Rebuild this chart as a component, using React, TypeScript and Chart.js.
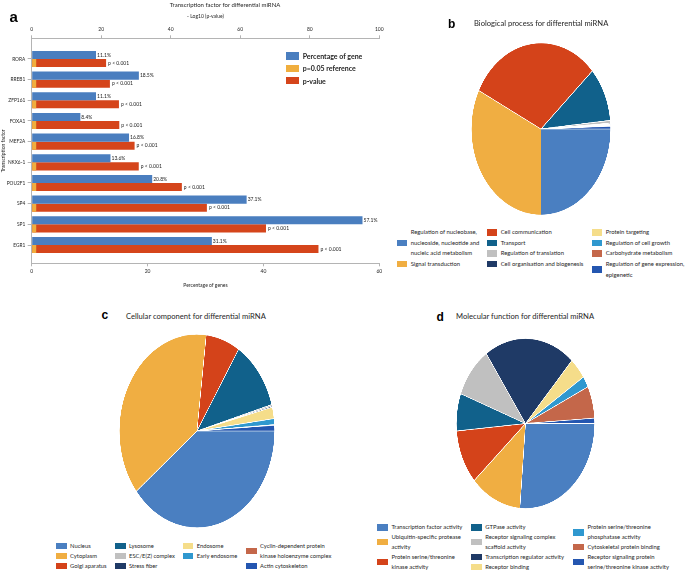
import React, { useEffect, useRef } from "react";
import { Chart, registerables } from "chart.js";
Chart.register(...registerables);
Chart.defaults.font.family = "Lato";

// ---------- Panel a data ----------
const factors = ["RORA", "RREB1", "ZFP161", "FOXA1", "MEF2A", "NKX6-1", "POU2F1", "SP4", "SP1", "EGR1"];
const genePct = [11.1, 18.5, 11.1, 8.4, 16.8, 13.6, 20.8, 37.1, 57.1, 31.1];
const refLog = [1.3, 1.3, 1.3, 1.3, 1.3, 1.3, 1.3, 1.3, 1.3, 1.3];
const pLog = [21.4, 22.5, 25.1, 25.2, 29.6, 30.8, 43.2, 50.4, 67.4, 82.5];
const pText = ["p < 0.001", "p < 0.001", "p < 0.001", "p < 0.001", "p < 0.001", "p < 0.001", "p < 0.001", "p < 0.001", "p < 0.001", "p < 0.001"];
const pctTicks = [0, 20, 40, 60];
const logTicks = [0, 20, 40, 60, 80, 100];
const barSeries = ["Percentage of gene", "p=0.05 reference", "p-value"];

// ---------- Panel b data ----------
const bpLabels = [
  "Regulation of nucleobase,\nnucleoside, nucleotide and\nnucleic acid metabolism",
  "Signal transduction",
  "Cell communication",
  "Transport",
  "Regulation of translation",
  "Cell organisation and biogenesis",
  "Protein targeting",
  "Regulation of cell growth",
  "Carbohydrate metabolism",
  "Regulation of gene expression,\nepigenetic",
];
const bpValues = [25.0, 32.4, 30.8, 10.2, 0.5, 0.15, 0.15, 0.15, 0.15, 0.5];

// ---------- Panel c data ----------
const ccLabels = [
  "Nucleus",
  "Cytoplasm",
  "Golgi aparatus",
  "Lysosome",
  "ESC/E(Z) complex",
  "Stress fiber",
  "Endosome",
  "Early endosome",
  "Cyclin-dependent protein\nkinase holoenzyme complex",
  "Actin cytoskeleton",
];
const ccValues = [39.3, 37.6, 7.1, 11.6, 0.25, 0.2, 1.9, 1.0, 0.1, 0.95];

// ---------- Panel d data ----------
const mfLabels = [
  "Transcription factor activity",
  "Ubiquitin-specific protease\nactivity",
  "Protein serine/threonine\nkinase activity",
  "GTPase activity",
  "Receptor signaling complex\nscaffold activity",
  "Transcription regulator activity",
  "Receptor binding",
  "Protein serine/threonine\nphosphatase activity",
  "Cytoskeletal protein binding",
  "Receptor signaling protein\nserine/threonine kinase activity",
];
const mfValues = [26.3, 12.0, 10.3, 7.1, 9.7, 21.3, 4.1, 2.1, 6.1, 1.0];

// ---------- styles ----------
const BLUE = "#4a7ebf";
const YELLOW = "#f0ae3e";
const RED = "#d5451b";
const AXIS = "#b4b4b4";
const TXT = "#262626";
const palette = ["#4a7fc1", "#f0ae42", "#d4431a", "#11618b", "#c0c0c0", "#1f3a66", "#f5dd8a", "#2f98cf", "#c4674a", "#2456b0"];

function Txt({ x, y, size, weight = 400, family = "Lato", center = false, children }: any) {
  return (
    <div
      style={{
        position: "absolute",
        left: x,
        top: y,
        transform: `translate(${center ? "-50%" : "0"},-50%)`,
        fontSize: size,
        fontWeight: weight,
        fontFamily: family,
        lineHeight: 1.2,
        whiteSpace: "nowrap",
        color: weight > 600 ? "#000" : TXT,
      }}
    >
      {children}
    </div>
  );
}

function BarPanel() {
  const ref = useRef<HTMLCanvasElement>(null);
  useEffect(() => {
    const tickFont = { size: 5, family: "Lato" };
    const labelPlugin = {
      id: "barLabels",
      afterDatasetsDraw(chart: any) {
        const ctx = chart.ctx;
        ctx.save();
        ctx.font = "5px Lato";
        ctx.fillStyle = "#222";
        ctx.textBaseline = "middle";
        ctx.textAlign = "left";
        chart.getDatasetMeta(0).data.forEach((el: any, i: number) => ctx.fillText(`${genePct[i]}%`, el.x + 1, el.y));
        chart.getDatasetMeta(2).data.forEach((el: any, i: number) => ctx.fillText(pText[i], el.x + 2, el.y));
        ctx.restore();
      },
    };
    const chart = new Chart(ref.current as HTMLCanvasElement, {
      type: "bar",
      data: {
        datasets: [
          {
            label: barSeries[0],
            data: factors.map((_, i) => ({ x: genePct[i], y: i })),
            xAxisID: "xPct",
            yAxisID: "y",
            stack: "pct",
            backgroundColor: BLUE,
            categoryPercentage: 0.78,
            barPercentage: 1,
          },
          {
            label: barSeries[1],
            data: factors.map((_, i) => ({ x: refLog[i], y: i })),
            xAxisID: "xLog",
            yAxisID: "y",
            stack: "p",
            backgroundColor: YELLOW,
            categoryPercentage: 0.78,
            barPercentage: 1,
          },
          {
            label: barSeries[2],
            data: factors.map((_, i) => ({ x: pLog[i], y: i })),
            xAxisID: "xLog",
            yAxisID: "y",
            stack: "p",
            backgroundColor: RED,
            categoryPercentage: 0.78,
            barPercentage: 1,
          },
        ],
      } as any,
      options: {
        indexAxis: "y",
        responsive: false,
        animation: false,
        layout: { padding: { left: 0, right: 10.7, top: 0, bottom: 0 } },
        plugins: { legend: { display: false }, tooltip: { enabled: false } },
        scales: {
          xPct: {
            type: "linear",
            axis: "x",
            position: "bottom",
            min: 0,
            max: 60,
            bounds: "data",
            afterBuildTicks: (s: any) => {
              s.ticks = pctTicks.map((v) => ({ value: v }));
            },
            afterFit: (s: any) => {
              s.height = 31.7;
            },
            grid: { drawOnChartArea: false, tickLength: 3, color: AXIS },
            border: { color: AXIS },
            ticks: { font: tickFont, color: TXT, padding: 2.4, maxRotation: 0 },
            title: { display: true, text: "Percentage of genes", font: tickFont, color: TXT, padding: { top: 0, bottom: 7 } },
          },
          xLog: {
            type: "linear",
            axis: "x",
            position: "top",
            min: 0,
            max: 100,
            stacked: false,
            bounds: "data",
            afterBuildTicks: (s: any) => {
              s.ticks = logTicks.map((v) => ({ value: v }));
            },
            afterFit: (s: any) => {
              s.height = 38.3;
            },
            grid: { drawOnChartArea: false, tickLength: 3, color: AXIS },
            border: { color: AXIS },
            ticks: { font: tickFont, color: TXT, padding: 3, maxRotation: 0 },
            title: { display: true, text: "- Log10 (p-value)", font: tickFont, color: TXT, padding: { top: 13.7, bottom: 0 } },
          },
          y: {
            type: "linear",
            axis: "y",
            position: "left",
            min: -1,
            max: 9.885,
            reverse: true,
            bounds: "data",
            offset: false,
            afterBuildTicks: (s: any) => {
              s.ticks = factors.map((_, i) => ({ value: i }));
            },
            afterFit: (s: any) => {
              s.width = 31.7;
            },
            grid: { drawOnChartArea: false, offset: false, tickLength: 4, color: AXIS },
            border: { color: AXIS },
            ticks: { autoSkip: false, font: { size: 4.8, family: "Lato" }, color: TXT, padding: 2.5, callback: (v: any) => factors[v] },
            title: { display: true, text: "Transcription factor", font: tickFont, color: TXT, padding: { top: 0.5, bottom: 0 } },
          },
        },
      } as any,
      plugins: [labelPlugin],
    });
    return () => chart.destroy();
  }, []);
  return (
    <canvas ref={ref} width={390} height={295} style={{ position: "absolute", left: 0, top: 0, width: 390, height: 295 }} />
  );
}

function Pie({ labels, values, cx, cy, rx, ry }: any) {
  const ref = useRef<HTMLCanvasElement>(null);
  useEffect(() => {
    const chart = new Chart(ref.current as HTMLCanvasElement, {
      type: "pie",
      data: {
        labels,
        datasets: [{ data: values, backgroundColor: palette, borderColor: "#ffffff", borderWidth: 0.6 }],
      },
      options: {
        responsive: false,
        animation: false,
        devicePixelRatio: 3,
        rotation: 90,
        layout: { padding: 0 },
        plugins: { legend: { display: false }, tooltip: { enabled: false } },
      } as any,
    });
    return () => chart.destroy();
  }, []);
  const size = Math.round(rx * 2 + 1);
  return (
    <div
      style={{
        position: "absolute",
        left: cx - size / 2,
        top: cy - size / 2,
        width: size,
        height: size,
        transform: `scaleY(${ry / rx})`,
        transformOrigin: "50% 50%",
      }}
    >
      <canvas ref={ref} width={size} height={size} style={{ width: size, height: size, display: "block" }} />
    </div>
  );
}

function Legend({ labels, colors, cols, top, lineH, size, sw, sh, gap, weight = 400 }: any) {
  return (
    <>
      {cols.map((col: any, ci: number) => (
        <div
          key={ci}
          style={{
            position: "absolute",
            left: col.x,
            top,
            fontSize: size,
            fontWeight: weight,
            lineHeight: `${lineH}px`,
            fontFamily: "Lato",
            color: TXT,
          }}
        >
          {col.items.map((i: number) => {
            const lines = labels[i].split("\n");
            return (
              <div key={i} style={{ position: "relative", height: lines.length * lineH, paddingLeft: sw + gap, whiteSpace: "nowrap" }}>
                <div
                  style={{
                    position: "absolute",
                    left: 0,
                    top: (lines.length * lineH - sh) / 2,
                    width: sw,
                    height: sh,
                    background: colors[i],
                  }}
                />
                {lines.map((l: string, k: number) => (
                  <div key={k}>{l}</div>
                ))}
              </div>
            );
          })}
        </div>
      ))}
    </>
  );
}

export default function App() {
  return (
    <div style={{ position: "absolute", left: 0, top: 0, width: 685, height: 574, background: "#fff", overflow: "hidden", fontFamily: "Lato" }}>
      {/* Panel a */}
      <BarPanel />
      <Txt x={9.5} y={16.5} size={15} weight={700} family="Liberation Sans">a</Txt>
      <Txt x={225} y={4.6} size={6} center>Transcription factor for differential miRNA</Txt>
      <Legend
        labels={barSeries}
        colors={[BLUE, YELLOW, RED]}
        cols={[{ x: 286, items: [0, 1, 2] }]}
        top={50.2}
        lineH={12.2}
        size={7}
        sw={13.3}
        sh={7.6}
        gap={3.4}
        weight={700}
      />

      {/* Panel b */}
      <Txt x={448} y={24.1} size={12} weight={700} family="Liberation Sans">b</Txt>
      <Txt x={474} y={24} size={7.6}>Biological process for differential miRNA</Txt>
      <Pie labels={bpLabels} values={bpValues} cx={540.5} cy={128.5} rx={69.5} ry={85.8} />
      <Legend
        labels={bpLabels}
        colors={palette}
        cols={[
          { x: 396.7, items: [0, 1] },
          { x: 486.7, items: [2, 3, 4, 5] },
          { x: 591.7, items: [6, 7, 8, 9] },
        ]}
        top={227.2}
        lineH={10.6}
        size={5.9}
        sw={10.5}
        sh={6.4}
        gap={3.5}
      />

      {/* Panel c */}
      <Txt x={101.5} y={315.1} size={12} weight={700} family="Liberation Sans">c</Txt>
      <Txt x={126} y={316.5} size={7.6}>Cellular component for differential miRNA</Txt>
      <Pie labels={ccLabels} values={ccValues} cx={196.7} cy={431.3} rx={77.3} ry={96.3} />
      <Legend
        labels={ccLabels}
        colors={palette}
        cols={[
          { x: 56, items: [0, 1, 2] },
          { x: 115, items: [3, 4, 5] },
          { x: 182.7, items: [6, 7] },
          { x: 246, items: [8, 9] },
        ]}
        top={541}
        lineH={10}
        size={5.8}
        sw={10.7}
        sh={6.4}
        gap={3.4}
      />

      {/* Panel d */}
      <Txt x={436.5} y={316.5} size={12} weight={700} family="Liberation Sans">d</Txt>
      <Txt x={456} y={317.3} size={7.6}>Molecular function for differential miRNA</Txt>
      <Pie labels={mfLabels} values={mfValues} cx={525.2} cy={423.3} rx={69.2} ry={85} />
      <Legend
        labels={mfLabels}
        colors={palette}
        cols={[
          { x: 377.3, items: [0, 1, 2] },
          { x: 471, items: [3, 4, 5, 6] },
          { x: 573.3, items: [7, 8, 9] },
        ]}
        top={522.45}
        lineH={9.9}
        size={5.9}
        sw={10.8}
        sh={6.4}
        gap={3.4}
      />
    </div>
  );
}
